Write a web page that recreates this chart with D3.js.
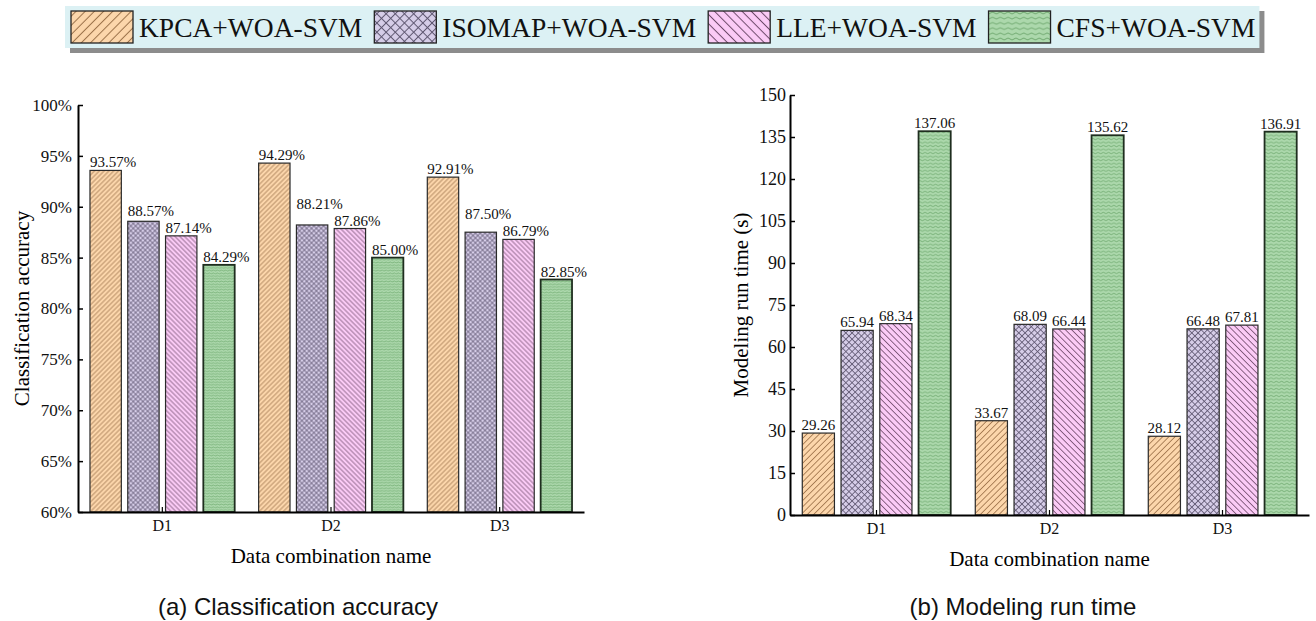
<!DOCTYPE html>
<html>
<head>
<meta charset="utf-8">
<script src="https://cdn.jsdelivr.net/npm/d3@7"></script>
<style>
  body { margin: 0; background: #fff; }
  svg { display: block; }
</style>
</head>
<body>
<svg id="fig" width="1316" height="621"></svg>
<script>
// data
var groups = ["D1", "D2", "D3"];
var methods = ["KPCA+WOA-SVM", "ISOMAP+WOA-SVM", "LLE+WOA-SVM", "CFS+WOA-SVM"];

var accKPCA = [93.57, 94.29, 92.91];
var accISOMAP = [88.57, 88.21, 87.50];
var accLLE = [87.14, 87.86, 86.79];
var accCFS = [84.29, 85.00, 82.85];

var timeKPCA = [29.26, 33.67, 28.12];
var timeISOMAP = [65.94, 68.09, 66.48];
var timeLLE = [68.34, 66.44, 67.81];
var timeCFS = [137.06, 135.62, 136.91];

var accTicks = [60, 65, 70, 75, 80, 85, 90, 95, 100];
var timeTicks = [0, 15, 30, 45, 60, 75, 90, 105, 120, 135, 150];

var fills = ["#fcd6ab", "#d6cde8", "#fbcbf6", "#acd8ac"];
var inks = ["#9a7048", "#5e5670", "#6e4a6a", "#5f9c5f"];
var serif = "'Liberation Serif', 'Times New Roman', serif";

var svg = d3.select("#fig");
var defs = svg.append("defs");

// hatch patterns, one set per size
function addPatterns(id, s, lw) {
    var p = defs.append("pattern").attr("id", id + "-0")
        .attr("patternUnits", "userSpaceOnUse")
        .attr("width", s).attr("height", s)
        .attr("patternTransform", "rotate(45)");
    p.append("rect").attr("width", s).attr("height", s).attr("fill", fills[0]);
    p.append("line").attr("x1", s / 2).attr("y1", 0).attr("x2", s / 2).attr("y2", s)
        .attr("stroke", inks[0]).attr("stroke-width", lw);

    p = defs.append("pattern").attr("id", id + "-1")
        .attr("patternUnits", "userSpaceOnUse")
        .attr("width", s).attr("height", s)
        .attr("patternTransform", "rotate(45)");
    p.append("rect").attr("width", s).attr("height", s).attr("fill", fills[1]);
    p.append("line").attr("x1", s / 2).attr("y1", 0).attr("x2", s / 2).attr("y2", s)
        .attr("stroke", inks[1]).attr("stroke-width", lw);
    p.append("line").attr("x1", 0).attr("y1", s / 2).attr("x2", s).attr("y2", s / 2)
        .attr("stroke", inks[1]).attr("stroke-width", lw);

    p = defs.append("pattern").attr("id", id + "-2")
        .attr("patternUnits", "userSpaceOnUse")
        .attr("width", s).attr("height", s)
        .attr("patternTransform", "rotate(-45)");
    p.append("rect").attr("width", s).attr("height", s).attr("fill", fills[2]);
    p.append("line").attr("x1", s / 2).attr("y1", 0).attr("x2", s / 2).attr("y2", s)
        .attr("stroke", inks[2]).attr("stroke-width", lw);

    // wavy texture for CFS
    var w = s * 1.2, h = s * 0.8;
    p = defs.append("pattern").attr("id", id + "-3")
        .attr("patternUnits", "userSpaceOnUse")
        .attr("width", w).attr("height", h);
    p.append("rect").attr("width", w).attr("height", h).attr("fill", fills[3]);
    p.append("path")
        .attr("d", "M0," + (h / 2) + " Q" + (w / 4) + "," + (h / 2 - h * 0.35) + " " + (w / 2) + "," + (h / 2) +
            " T" + w + "," + (h / 2))
        .attr("fill", "none").attr("stroke", inks[3]).attr("stroke-width", lw * 0.8);
}
addPatterns("pa", 3.4, 0.7);
addPatterns("pb", 4.4, 0.8);
addPatterns("pl", 6.5, 1);

// legend
var legend = svg.append("g");
var lgX = 65, lgY = 6, lgH = 42;
var shadow = legend.append("rect").attr("fill", "#8c8c8c");
var box = legend.append("rect").attr("fill", "#dcf1f4");
var cx = lgX + 6;
methods.forEach(function(m, i) {
    legend.append("rect")
        .attr("x", cx).attr("y", lgY + 5)
        .attr("width", 62).attr("height", 32)
        .attr("fill", "url(#pl-" + i + ")")
        .attr("stroke", "#222").attr("stroke-width", 1.3);
    var t = legend.append("text")
        .attr("x", cx + 68).attr("y", lgY + 31)
        .style("font-family", serif).style("font-size", "27.5px")
        .attr("fill", "#111")
        .text(m);
    cx += 68 + t.node().getComputedTextLength() + 12;
});
var lgW = cx - 8 - lgX;
box.attr("x", lgX).attr("y", lgY).attr("width", lgW).attr("height", lgH);
shadow.attr("x", lgX + 5).attr("y", lgY + 5).attr("width", lgW).attr("height", lgH);

function drawChart(opt) {
    var g = svg.append("g");
    var series = [opt.kpca, opt.isomap, opt.lle, opt.cfs];

    var x0 = d3.scaleBand().domain(groups).range([opt.left, opt.right])
        .paddingInner(0.142).paddingOuter(0.071);
    var x1 = d3.scaleBand().domain(d3.range(methods.length)).range([0, x0.bandwidth()])
        .paddingInner(0.17);
    var y = d3.scaleLinear().domain(opt.domain).range([opt.bottom, opt.top]);

    groups.forEach(function(grp, gi) {
        var vals = series.map(function(s, i) { return { i: i, v: s[gi], ly: y(s[gi]) - 3 }; });
        // lift a label that would run into its right-hand neighbour
        if (opt.anchor === "start") {
            for (var i = vals.length - 2; i >= 0; i--) {
                if (vals[i].ly > vals[i + 1].ly - 17 && vals[i].ly < vals[i + 1].ly + 17) {
                    vals[i].ly = vals[i + 1].ly - 17;
                }
            }
        }
        var bars = g.append("g").attr("transform", "translate(" + x0(grp) + ",0)");
        bars.selectAll("rect")
            .data(vals)
            .enter().append("rect")
            .attr("x", d => x1(d.i))
            .attr("y", d => y(d.v))
            .attr("width", x1.bandwidth())
            .attr("height", d => opt.bottom - y(d.v))
            .attr("fill", d => "url(#" + opt.pat + "-" + d.i + ")")
            .attr("stroke", d => d.i === 3 ? "#1f2e1f" : "#2a2a2a")
            .attr("stroke-width", d => d.i === 3 ? 1.8 : 1.2);
        bars.selectAll("text")
            .data(vals)
            .enter().append("text")
            .attr("x", d => opt.anchor === "start" ? x1(d.i) : x1(d.i) + x1.bandwidth() / 2)
            .attr("y", d => d.ly)
            .attr("text-anchor", opt.anchor)
            .style("font-family", serif).style("font-size", "15px")
            .attr("fill", "#111")
            .text(d => d3.format(".2f")(d.v) + opt.suffix);
    });

    var yAxis = g.append("g")
        .attr("transform", "translate(" + opt.left + ",0)")
        .call(d3.axisLeft(y).tickValues(opt.ticks).tickSize(-5).tickSizeOuter(0)
            .tickPadding(opt.tickPad).tickFormat(d => d + opt.suffix));
    yAxis.select(".domain").attr("stroke-width", 2);
    yAxis.selectAll(".tick line").attr("stroke-width", 1.5);
    yAxis.selectAll("text").style("font-family", serif).style("font-size", opt.tickFont).attr("fill", "#111");

    var xAxis = g.append("g")
        .attr("transform", "translate(0," + opt.bottom + ")")
        .call(d3.axisBottom(x0).tickSize(-5).tickSizeOuter(0).tickPadding(8));
    xAxis.select(".domain").attr("stroke-width", 2);
    xAxis.selectAll(".tick line").attr("stroke-width", 1.2);
    xAxis.selectAll("text").style("font-family", serif).style("font-size", "16px").attr("fill", "#111");

    // axis titles
    g.append("text")
        .attr("x", (opt.left + opt.right) / 2)
        .attr("y", opt.bottom + 51)
        .attr("text-anchor", "middle")
        .style("font-family", serif).style("font-size", "21px")
        .text("Data combination name");

    g.append("text")
        .attr("transform", "translate(" + opt.yTitleX + "," + ((opt.top + opt.bottom) / 2) + ") rotate(-90)")
        .attr("text-anchor", "middle")
        .style("font-family", serif).style("font-size", "21px")
        .text(opt.yTitle);

    g.append("text")
        .attr("x", opt.capX)
        .attr("y", 615)
        .attr("text-anchor", "middle")
        .style("font-family", "'Liberation Sans', Arial, sans-serif").style("font-size", "24px")
        .attr("fill", "#111")
        .text(opt.caption);
}

drawChart({
    kpca: accKPCA, isomap: accISOMAP, lle: accLLE, cfs: accCFS,
    left: 78, right: 584, top: 105, bottom: 512,
    domain: [60, 100], ticks: accTicks, suffix: "%", tickPad: 6, tickFont: "17px",
    pat: "pa", anchor: "start", yTitle: "Classification accuracy", yTitleX: 29,
    caption: "(a) Classification accuracy", capX: 298
});

drawChart({
    kpca: timeKPCA, isomap: timeISOMAP, lle: timeLLE, cfs: timeCFS,
    left: 790, right: 1309, top: 95, bottom: 515,
    domain: [0, 150], ticks: timeTicks, suffix: "", tickPad: 4, tickFont: "18px",
    pat: "pb", anchor: "middle", yTitle: "Modeling run time (s)", yTitleX: 748,
    caption: "(b) Modeling run time", capX: 1023
});
</script>
</body>
</html>
